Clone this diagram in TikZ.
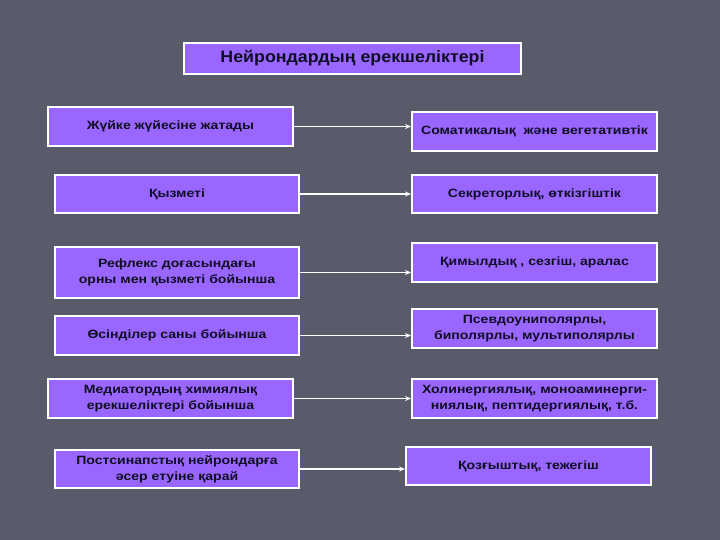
\documentclass[tikz,border=0pt]{standalone}
\usepackage{fontspec}
\setmainfont{Liberation Sans}
\newfontfamily\boxfont[FakeStretch=1.17]{Liberation Sans}
\newfontfamily\titlefont[FakeStretch=1.08]{Liberation Sans}
\usetikzlibrary{arrows.meta}
\definecolor{bg}{RGB}{89,91,106}
\definecolor{boxfill}{RGB}{153,102,255}
\definecolor{txt}{RGB}{16,14,36}
\tikzset{
  box/.style={draw=white, line width=2pt, fill=boxfill, text=txt,
    font=\boxfont\bfseries\fontsize{12}{16}\selectfont, align=center, inner sep=0pt,
    anchor=north west},
  conn/.style={white, line width=1.8pt, -{Stealth[length=6pt,width=5pt]}}
}
\begin{document}
\begin{tikzpicture}[x=1pt,y=-1pt]
\fill[bg] (0,0) rectangle (720,540);
\useasboundingbox (0,0) rectangle (720,540);
\node[box, minimum width=337pt, minimum height=31pt, font=\titlefont\bfseries\fontsize{16.5}{18}\selectfont] (title) at (183,42) {Нейрондардың ерекшеліктері};
% left column
\node[box, minimum width=245pt, minimum height=39pt] (l1) at (47,106) {Жүйке жүйесіне жатады};
\node[box, minimum width=244pt, minimum height=38pt] (l2) at (54,174) {Қызметі};
\node[box, minimum width=244pt, minimum height=51pt] (l3) at (54,246) {Рефлекс доғасындағы\\орны мен қызметі бойынша};
\node[box, minimum width=244pt, minimum height=39pt] (l4) at (54,315) {Өсінділер саны бойынша};
\node[box, minimum width=245pt, minimum height=39pt] (l5) at (47,378) {Медиатордың химиялық\\ерекшеліктері бойынша};
\node[box, minimum width=244pt, minimum height=38pt] (l6) at (54,449) {Постсинапстық нейрондарға\\әсер етуіне қарай};
% right column
\node[box, minimum width=245pt, minimum height=39pt] (r1) at (411,111) {Соматикалық\ \ және вегетативтік};
\node[box, minimum width=245pt, minimum height=38pt] (r2) at (411,174) {Секреторлық, өткізгіштік};
\node[box, minimum width=245pt, minimum height=39pt] (r3) at (411,242) {Қимылдық , сезгіш, аралас};
\node[box, minimum width=245pt, minimum height=39pt] (r4) at (411,308) {Псевдоуниполярлы,\\биполярлы, мультиполярлы};
\node[box, minimum width=245pt, minimum height=39pt] (r5) at (411,378) {Холинергиялық, моноаминерги-\\ниялық, пептидергиялық, т.б.};
\node[box, minimum width=245pt, minimum height=38pt] (r6) at (405,446) {Қозғыштық, тежегіш};
% connectors
\foreach \i in {1,...,6}{
  \draw[conn] (l\i.east) -- (l\i.east -| r\i.west);
}
\end{tikzpicture}
\end{document}
